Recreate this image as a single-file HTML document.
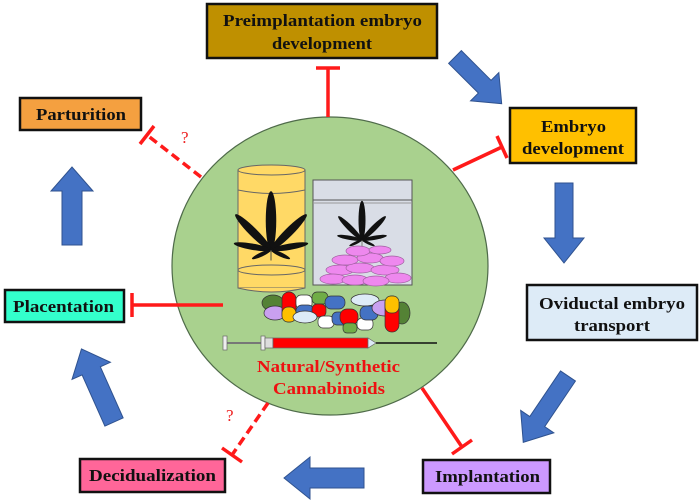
<!DOCTYPE html>
<html><head><style>
html,body{margin:0;padding:0;background:#fff;width:700px;height:503px;overflow:hidden}
svg{display:block}
</style></head><body>
<svg width="700" height="503" viewBox="0 0 700 503" xmlns="http://www.w3.org/2000/svg">
<defs>
<g id="leaf">
<ellipse cx="0" cy="-28" rx="5" ry="28" fill="#111"/>
<ellipse cx="0" cy="-24" rx="4" ry="24" fill="#111" transform="rotate(-45)"/>
<ellipse cx="0" cy="-24" rx="4" ry="24" fill="#111" transform="rotate(45)"/>
<ellipse cx="0" cy="-18" rx="3" ry="18" fill="#111" transform="rotate(-80)"/>
<ellipse cx="0" cy="-18" rx="3" ry="18" fill="#111" transform="rotate(80)"/>
<ellipse cx="0" cy="-10" rx="2" ry="10" fill="#111" transform="rotate(-115)"/>
<ellipse cx="0" cy="-10" rx="2" ry="10" fill="#111" transform="rotate(115)"/>
<line x1="0" y1="0" x2="0" y2="10" stroke="#554" stroke-width="1"/>
</g>
</defs>

<ellipse cx="330" cy="266" rx="158" ry="149" fill="#a9d18e" stroke="#4f6b4a" stroke-width="1.2"/>

<rect x="238" y="170" width="67" height="118" fill="#ffd966" stroke="#666" stroke-width="1"/>
<ellipse cx="271.5" cy="170" rx="33.5" ry="5" fill="#ffd966" stroke="#666"/>
<path d="M238 190 Q271.5 197 305 190" fill="none" stroke="#666"/>
<ellipse cx="271.5" cy="270" rx="33.5" ry="5" fill="none" stroke="#666"/>
<path d="M238 288 Q271.5 296 305 288" fill="#ffd966" stroke="#666"/>
<use href="#leaf" transform="translate(271,250) scale(1.05)"/>
<rect x="313" y="180" width="99" height="105" fill="#d9dde6" stroke="#555" stroke-width="1"/>
<line x1="313" y1="200" x2="412" y2="200" stroke="#555"/>
<line x1="313" y1="203" x2="412" y2="203" stroke="#999"/>
<use href="#leaf" transform="translate(362,240) scale(0.7)"/>
<g fill="#ee88ee" stroke="#a060a0" stroke-width="0.7">
<ellipse cx="340" cy="270" rx="14" ry="5"/><ellipse cx="360" cy="268" rx="14" ry="5"/><ellipse cx="385" cy="270" rx="14" ry="5"/>
<ellipse cx="398" cy="278" rx="13" ry="5"/><ellipse cx="333" cy="279" rx="13" ry="5"/><ellipse cx="355" cy="280" rx="13" ry="5"/><ellipse cx="376" cy="281" rx="13" ry="5"/>
<ellipse cx="345" cy="260" rx="13" ry="5"/><ellipse cx="370" cy="258" rx="13" ry="5"/><ellipse cx="392" cy="261" rx="12" ry="5"/>
<ellipse cx="358" cy="251" rx="12" ry="5"/><ellipse cx="380" cy="250" rx="11" ry="4"/>
</g>
<g stroke="#333" stroke-width="0.7">
<ellipse cx="273" cy="303" rx="11" ry="8" fill="#548235"/>
<ellipse cx="275" cy="313" rx="11" ry="7" fill="#c9a0f0"/>
<rect x="282" y="292" width="14" height="30" rx="7" fill="#ff0000"/>
<rect x="282" y="307" width="14" height="15" rx="6" fill="#ffc000"/>
<rect x="296" y="295" width="16" height="14" rx="5" fill="#fff"/>
<rect x="312" y="292" width="16" height="12" rx="5" fill="#70ad47"/>
<rect x="296" y="305" width="18" height="14" rx="6" fill="#4472c4"/>
<rect x="312" y="304" width="14" height="13" rx="5" fill="#ff0000"/>
<ellipse cx="305" cy="317" rx="12" ry="6" fill="#ddebf7"/>
<rect x="325" y="296" width="20" height="13" rx="6" fill="#4472c4"/>
<rect x="318" y="316" width="16" height="12" rx="5" fill="#fff"/>
<rect x="332" y="312" width="16" height="13" rx="5" fill="#4472c4"/>
<rect x="340" y="309" width="18" height="16" rx="7" fill="#ff0000"/>
<ellipse cx="365" cy="300" rx="14" ry="6" fill="#ddebf7"/>
<rect x="343" y="323" width="14" height="10" rx="4" fill="#70ad47"/>
<rect x="357" y="318" width="16" height="12" rx="5" fill="#fff"/>
<rect x="360" y="306" width="18" height="14" rx="6" fill="#4472c4"/>
<ellipse cx="385" cy="308" rx="13" ry="8" fill="#c9a0f0"/>
<ellipse cx="402" cy="313" rx="8" ry="11" fill="#548235"/>
<rect x="385" y="296" width="14" height="36" rx="7" fill="#ff0000"/>
<rect x="385" y="296" width="14" height="17" rx="6" fill="#ffc000"/>
</g>
<line x1="226" y1="343" x2="263" y2="343" stroke="#777" stroke-width="2"/>
<rect x="223" y="336" width="4" height="14" fill="#eee" stroke="#666" stroke-width="0.7"/>
<rect x="261" y="336" width="4" height="14" fill="#eee" stroke="#666" stroke-width="0.7"/>
<rect x="265" y="338" width="8" height="10" fill="#ddd" stroke="#666" stroke-width="0.7"/>
<rect x="273" y="338" width="95" height="10" fill="#ff0000" stroke="#666" stroke-width="0.7"/>
<polygon points="368,338 376,343 368,348" fill="#ddebf7" stroke="#666" stroke-width="0.7"/>
<line x1="376" y1="343" x2="437" y2="343" stroke="#111" stroke-width="1.5"/>
<g font-family="'Liberation Serif', serif" font-weight="bold" font-size="17" fill="#ee1111">
<text x="257" y="372" textLength="143" lengthAdjust="spacingAndGlyphs">Natural/Synthetic</text>
<text x="273" y="394" textLength="112" lengthAdjust="spacingAndGlyphs">Cannabinoids</text>
</g>

<g stroke="#ff1a1a" stroke-width="3.5" fill="none">
<line x1="328" y1="117" x2="328" y2="68"/><line x1="316" y1="68" x2="340" y2="68"/>
<line x1="453" y1="170" x2="502" y2="147"/><line x1="497" y1="136" x2="507" y2="158"/>
<line x1="223" y1="305" x2="132" y2="305"/><line x1="132" y1="293" x2="132" y2="317"/>
<line x1="422" y1="388" x2="462" y2="447"/><line x1="452" y1="454" x2="472" y2="440"/>
<line x1="201" y1="177" x2="147" y2="135" stroke-dasharray="9,5"/><line x1="140" y1="144" x2="154" y2="126"/>
<line x1="268" y1="403" x2="232" y2="455" stroke-dasharray="9,5"/><line x1="222" y1="448" x2="242" y2="462"/>
</g>
<g font-family="'Liberation Serif', serif" font-size="17" fill="#ee2222">
<text x="181" y="143">?</text>
<text x="226" y="421">?</text>
</g>

<g fill="#4472c4" stroke="#2f528f" stroke-width="1">
<polygon points="0,-9 42,-9 42,-20 66,0 42,20 42,9 0,9" transform="translate(455,57) rotate(45)"/>
<polygon points="0,-9 55,-9 55,-20 80,0 55,20 55,9 0,9" transform="translate(564,183) rotate(90)"/>
<polygon points="0,-9 55,-9 55,-20 80,0 55,20 55,9 0,9" transform="translate(568,376) rotate(124)"/>
<polygon points="0,-10 54,-10 54,-21 80,0 54,21 54,10 0,10" transform="translate(364,478) rotate(180)"/>
<polygon points="0,-10 56,-10 56,-21 80,0 56,21 56,10 0,10" transform="translate(114,422) rotate(-114)"/>
<polygon points="0,-10 54,-10 54,-21 78,0 54,21 54,10 0,10" transform="translate(72,245) rotate(-90)"/>
</g>

<g stroke="#111" stroke-width="2.5">
<rect x="207" y="4" width="230" height="54" fill="#bf9000"/>
<rect x="510" y="108" width="126" height="55" fill="#ffc000"/>
<rect x="527" y="285" width="170" height="55" fill="#ddebf7"/>
<rect x="423" y="460" width="127" height="33" fill="#cc99ff"/>
<rect x="80" y="459" width="145" height="33" fill="#ff6699"/>
<rect x="5" y="290" width="119" height="32" fill="#33ffcc"/>
<rect x="20" y="98" width="121" height="32" fill="#f4a040"/>
</g>
<g font-family="'Liberation Serif', serif" font-weight="bold" font-size="17" fill="#111" lengthAdjust="spacingAndGlyphs">
<text x="223" y="26" textLength="199" lengthAdjust="spacingAndGlyphs">Preimplantation embryo</text>
<text x="272" y="49" textLength="100" lengthAdjust="spacingAndGlyphs">development</text>
<text x="541" y="132" textLength="65" lengthAdjust="spacingAndGlyphs">Embryo</text>
<text x="522" y="154" textLength="102" lengthAdjust="spacingAndGlyphs">development</text>
<text x="539" y="309" textLength="146" lengthAdjust="spacingAndGlyphs">Oviductal embryo</text>
<text x="574" y="331" textLength="76" lengthAdjust="spacingAndGlyphs">transport</text>
<text x="435" y="482" textLength="105" lengthAdjust="spacingAndGlyphs">Implantation</text>
<text x="89" y="481" textLength="127" lengthAdjust="spacingAndGlyphs">Decidualization</text>
<text x="13" y="312" textLength="101" lengthAdjust="spacingAndGlyphs">Placentation</text>
<text x="36" y="120" textLength="90" lengthAdjust="spacingAndGlyphs">Parturition</text>
</g>
</svg>
</body></html>
